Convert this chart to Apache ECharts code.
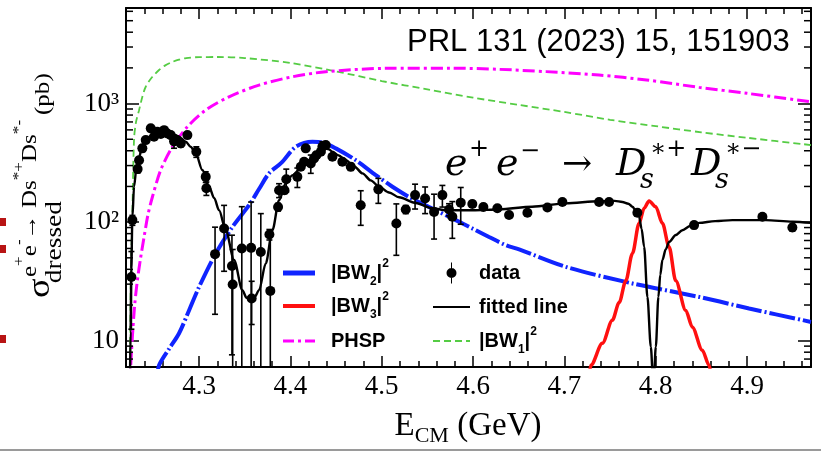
<!DOCTYPE html>
<html><head><meta charset="utf-8">
<script src="https://cdn.jsdelivr.net/npm/echarts@6/dist/echarts.min.js"></script>
<style>html,body{margin:0;padding:0;background:#fff}#c{width:821px;height:454px}</style>
</head><body><div id="c"></div>
<script>
// ---------- axis ranges & tick labels ----------
const X_MIN = 4.22, X_MAX = 4.97, Y_MIN = 6, Y_MAX = 6400;
const xTickLabels = ['4.3', '4.4', '4.5', '4.6', '4.7', '4.8', '4.9'];
const yTickValues = [10, 100, 1000];
const yTickLabels = ['10', '10²', '10³'];
const yMinorTicks = [7, 8, 9, 20, 30, 40, 50, 60, 70, 80, 90, 200, 300, 400, 500, 600, 700, 800, 900, 2000, 3000, 4000, 5000, 6000];

// ---------- data points ----------
const dataE = [4.2259, 4.2270, 4.2327, 4.2343, 4.2379, 4.2416, 4.2471, 4.2507, 4.2543, 4.2581, 4.2617, 4.2653, 4.2690, 4.2726, 4.2762, 4.2800, 4.2872, 4.2970, 4.3073, 4.3080, 4.3175, 4.3274, 4.3360, 4.3368, 4.3468, 4.3570, 4.3576, 4.3676, 4.3770, 4.3780, 4.3865, 4.3876, 4.3935, 4.3955, 4.4076, 4.4114, 4.4150, 4.4168, 4.4223, 4.4259, 4.4284, 4.4333, 4.4350, 4.4387, 4.4460, 4.4569, 4.4661, 4.4770, 4.4963, 4.5160, 4.5263, 4.5365, 4.5475, 4.5573, 4.5664, 4.5737, 4.5773, 4.5865, 4.5992, 4.6113, 4.6266, 4.6394, 4.6595, 4.6814, 4.6978, 4.7380, 4.7489, 4.7799, 4.8420, 4.9168, 4.9496];
const dataSigma = [34.5, 104, 280, 333, 419, 492, 618, 525, 578, 553, 597, 560, 542, 480, 492, 461, 542, 392, 241, 193, 53.7, 88.5, 42.6, 29.8, 60, 60.7, 22.7, 56, 78.7, 26.3, 134, 186, 186, 230, 241, 293, 323, 419, 313, 345, 367, 392, 432, 447, 356, 323, 293, 139, 189, 97.5, 128, 169, 158, 122, 169, 128, 111, 146, 142, 134, 131, 115, 120, 133, 148, 148, 148, 120, 94.4, 111, 90];
const dataErr = [22, 10, 20, 20, 25, 25, 30, 25, 25, 25, 30, 25, 25, 60, 30, 30, 30, 40, 25, 25, 37, 50, 35, 29, 75, 87, 9, 62, 8, 57, 10, 25, 12, 50, 45, 15, 20, 20, 55, 20, 20, 20, 45, 20, 20, 20, 20, 45, 45, 45, 10, 40, 40, 50, 35, 15, 38, 50, 8, 8, 6, 6, 6, 6, 6, 6, 6, 6, 6, 6, 6];

// ---------- fitted line ----------
const fitE = [4.2244, 4.2250, 4.2258, 4.2270, 4.2288, 4.2315, 4.2343, 4.2380, 4.2416, 4.2470, 4.2526, 4.2580, 4.2635, 4.2690, 4.2745, 4.2800, 4.2854, 4.2910, 4.2964, 4.3036, 4.3110, 4.3165, 4.3219, 4.3292, 4.3383, 4.3474, 4.3520, 4.3566, 4.3610, 4.3657, 4.3730, 4.3803, 4.3876, 4.3949, 4.4020, 4.4095, 4.4168, 4.4241, 4.4310, 4.4369, 4.4420, 4.4460, 4.4530, 4.4606, 4.4700, 4.4789, 4.4880, 4.4971, 4.5080, 4.5190, 4.5372, 4.5555, 4.5700, 4.6000, 4.6285, 4.6646, 4.7015, 4.7380, 4.7550, 4.7635, 4.7700, 4.7745, 4.7790, 4.7818, 4.7845, 4.7873, 4.7909, 4.7946, 4.7975, 4.8001, 4.8029, 4.8050, 4.8073, 4.8110, 4.8146, 4.8220, 4.8292, 4.8380, 4.8475, 4.8650, 4.8839, 4.9205, 4.9496, 4.9700];
const fitSigma = [5, 12, 40, 110, 199, 290, 356, 430, 492, 535, 561, 574, 578, 565, 542, 510, 476, 430, 380, 275, 199, 160, 126, 85.5, 48, 26.7, 23, 22, 23.5, 26.7, 44.8, 85.5, 153, 212, 248, 275, 305, 356, 400, 419, 412, 392, 365, 333, 295, 258, 225, 199, 178, 162, 145, 131, 126, 126, 128, 135, 144, 150, 151, 148, 143, 135, 122, 111, 88, 62, 23.4, 8.9, 4, 8.9, 23.4, 36, 48, 59, 68, 78, 85.5, 93, 98.6, 102, 104, 104, 100.8, 98.6];

// ---------- |BW1|^2 ----------
const bw1E = [4.2244, 4.2250, 4.2260, 4.2268, 4.2288, 4.2310, 4.2343, 4.2380, 4.2416, 4.2480, 4.2562, 4.2630, 4.2704, 4.2780, 4.2858, 4.3000, 4.3200, 4.3500, 4.4000, 4.4500, 4.5000, 4.5500, 4.6000, 4.6500, 4.7000, 4.7500, 4.8000, 4.8500, 4.9000, 4.9700];
const bw1Sigma = [4, 22, 60, 100, 500, 700, 880, 1150, 1387, 1650, 1919, 2100, 2240, 2350, 2420, 2466, 2470, 2420, 2200, 1870, 1549, 1318, 1122, 975, 850, 730, 645, 572, 515, 447];

// ---------- PHSP ----------
const phspE = [4.2244, 4.2252, 4.2270, 4.2295, 4.2324, 4.2360, 4.2398, 4.2440, 4.2489, 4.2580, 4.2708, 4.2872, 4.3073, 4.3328, 4.3657, 4.4022, 4.4387, 4.5044, 4.5774, 4.6285, 4.6800, 4.7380, 4.7900, 4.8475, 4.9000, 4.9700];
const phspSigma = [4, 6.2, 10.8, 20, 32, 50, 75, 115, 163, 275, 432, 637, 881, 1141, 1432, 1683, 1855, 1983, 1990, 1944, 1860, 1739, 1580, 1370, 1220, 1036];

// ---------- |BW2|^2 ----------
const bw2E = [4.2545, 4.2562, 4.2670, 4.2780, 4.2890, 4.3000, 4.3183, 4.3365, 4.3547, 4.3660, 4.3766, 4.3900, 4.4059, 4.4241, 4.4350, 4.4497, 4.4716, 4.4935, 4.5117, 4.5300, 4.5518, 4.5628, 4.5811, 4.5992, 4.6175, 4.6358, 4.6504, 4.7015, 4.7744, 4.8475, 4.9022, 4.9700];
const bw2Sigma = [5, 6.2, 8.5, 11.5, 18, 28.4, 54.5, 91, 139, 192, 258, 316, 432, 476, 470, 419, 333, 249, 199, 163, 134, 122, 104, 88.5, 75, 64, 58.9, 42, 30.4, 23.4, 18.7, 14.4];

// ---------- |BW3|^2 ----------
const bw3E = [4.7270, 4.7289, 4.7416, 4.7525, 4.7600, 4.7672, 4.7745, 4.7818, 4.7873, 4.7927, 4.8000, 4.8073, 4.8146, 4.8219, 4.8329, 4.8401, 4.8510, 4.8584, 4.8610];
const bw3Sigma = [5, 6.2, 9.5, 14.9, 21, 32, 54.5, 98, 131, 151, 135, 98, 62, 32, 18, 13, 8.3, 6.2, 5];

const zip = (a, b) => a.map((v, i) => [v, b[i]]);

const SERIF = 'Liberation Serif';
const SANS = 'Liberation Sans';
const C_BLUE = '#1024ff', C_RED = '#ff1010', C_MAG = '#ff00ff', C_GREEN = '#55cc44';

const chart = echarts.init(document.getElementById('c'), null, { renderer: 'canvas' });

const xFmt = v => {
  const r = Math.round(v * 10) / 10;
  const s = r.toFixed(1);
  return (Math.abs(v - r) < 1e-6 && xTickLabels.includes(s)) ? s : '';
};
const yFmt = v => {
  const i = yTickValues.findIndex(t => Math.abs(v - t) / t < 1e-6);
  return i >= 0 ? yTickLabels[i] : '';
};

const axisLineStyle = { color: '#000', width: 2 };
const tickStyle = { color: '#000', width: 1.5 };

const xAxisBase = {
  type: 'value', min: X_MIN, max: X_MAX, splitNumber: 8,
  axisLine: { show: true, onZero: false, lineStyle: axisLineStyle },
  axisTick: { show: true, inside: true, length: 11, lineStyle: tickStyle },
  minorTick: { show: true, splitNumber: 5, length: 6, lineStyle: tickStyle },
  splitLine: { show: false }, minorSplitLine: { show: false }
};
const yAxisBase = {
  type: 'log', logBase: 10, min: Y_MIN, max: Y_MAX,
  axisLine: { show: true, lineStyle: axisLineStyle },
  axisTick: { show: true, inside: true, length: 13, lineStyle: tickStyle },
  minorTick: { show: false },
  splitLine: { show: false }
};

// ---------- legend ----------
const legendRich = {
  t: { fontFamily: SANS, fontWeight: 'bold', fontSize: 20, lineHeight: 30, color: '#000', verticalAlign: 'middle' },
  sb: { fontFamily: SANS, fontWeight: 'bold', fontSize: 12, lineHeight: 8, color: '#000', verticalAlign: 'bottom' },
  sp: { fontFamily: SANS, fontWeight: 'bold', fontSize: 12, lineHeight: 16, color: '#000', verticalAlign: 'top' }
};
const legendLabel = {
  'BW1': '{t||BW}{sb|1}{t||}{sp|2}',
  'BW2': '{t||BW}{sb|2}{t||}{sp|2}',
  'BW3': '{t||BW}{sb|3}{t||}{sp|2}',
  'PHSP': '{t|PHSP}',
  'data': '{t|data}',
  'fitted line': '{t|fitted line}'
};
const legendIcons = {
  'BW2': 'path://M0,0M32,30M0,12.5H32V17.5H0Z',
  'BW3': 'path://M0,0M32,30M0,13H32V17H0Z',
  'PHSP': 'path://M0,0M32,30M0,13.5H11V16.5H0Z M15,13.5H18V16.5H15Z M22,13.5H32V16.5H22Z',
  'data': 'path://M0,0M37,30M18,4.5H19V25.5H18Z M23.5,15A5,5,0,1,1,13.5,15A5,5,0,1,1,23.5,15Z',
  'fitted line': 'path://M0,0M37,30M0,14H37V16H0Z',
  'BW1': 'path://M0,0M37,30M0,14H7V16H0Z M11,14H18V16H11Z M22,14H29V16H22Z M33,14H37V16H33Z'
};
const mkLegend = (name, color, left, centerY, itemWidth, textPad) => ({
  orient: 'vertical', left: left, top: centerY - 15, padding: 0, itemGap: 0,
  itemWidth: itemWidth, itemHeight: 30, selectedMode: false,
  data: [{ name: name, icon: legendIcons[name], itemStyle: { color: color, opacity: 1, borderWidth: 0 } }],
  formatter: n => legendLabel[n],
  textStyle: { padding: [0, 0, 0, textPad], rich: legendRich }
});

const option = {
  animation: false,
  backgroundColor: '#fff',
  grid: { left: 126, right: 10, top: 8, bottom: 87, containLabel: false },
  xAxis: [
    Object.assign({}, xAxisBase, { position: 'bottom',
      axisLabel: { show: true, formatter: xFmt, fontFamily: SERIF, fontSize: 27, color: '#000', margin: 6, showMinLabel: false, showMaxLabel: false } }),
    Object.assign({}, xAxisBase, { position: 'top', axisLabel: { show: false } })
  ],
  yAxis: [
    Object.assign({}, yAxisBase, { position: 'left',
      axisLabel: { show: true, formatter: yFmt, fontFamily: SERIF, fontSize: 27, color: '#000', margin: 7, showMinLabel: false, showMaxLabel: false } }),
    Object.assign({}, yAxisBase, { position: 'right', axisLabel: { show: false } })
  ],
  legend: [
    mkLegend('BW2', C_BLUE, 283, 273, 32, 11),
    mkLegend('BW3', C_RED, 283, 306, 32, 11),
    mkLegend('PHSP', C_MAG, 283, 341, 32, 11),
    mkLegend('data', '#000', 433, 273, 37, 4),
    mkLegend('fitted line', '#000', 433, 307, 37, 4),
    mkLegend('BW1', C_GREEN, 433, 341, 37, 4)
  ],
  series: [
    { name: 'BW1', type: 'line', data: zip(bw1E, bw1Sigma), symbol: 'none', smooth: 0.3,
      lineStyle: { color: C_GREEN, width: 1.8, type: [7, 4] }, itemStyle: { color: C_GREEN }, z: 2 },
    { name: 'PHSP', type: 'line', data: zip(phspE, phspSigma), symbol: 'none', smooth: 0.3,
      lineStyle: { color: C_MAG, width: 3, type: [12, 4, 3, 4] }, itemStyle: { color: C_MAG }, z: 2 },
    { name: 'BW2', type: 'line', data: zip(bw2E, bw2Sigma), symbol: 'none', smooth: 0.3,
      lineStyle: { color: C_BLUE, width: 4, type: [26, 3, 2, 3] }, itemStyle: { color: C_BLUE }, z: 3 },
    { name: 'BW3', type: 'line', data: zip(bw3E, bw3Sigma), symbol: 'none', smooth: 0.3, smoothMonotone: 'x',
      lineStyle: { color: C_RED, width: 3.5 }, itemStyle: { color: C_RED }, z: 3 },
    { name: 'fitted line', type: 'line', data: zip(fitE, fitSigma), symbol: 'none', smooth: 0.3, smoothMonotone: 'x',
      lineStyle: { color: '#000', width: 2.4 }, itemStyle: { color: '#000' }, z: 4 },
    { name: 'errors', type: 'custom', clip: true, silent: true, z: 5,
      data: dataE.map((e, i) => [e, dataSigma[i], dataErr[i]]),
      renderItem: (params, api) => {
        const x = api.value(0), y = api.value(1), e = api.value(2);
        const lo = Math.max(y - e, 0.5), hi = y + e;
        const p0 = api.coord([x, lo]), p1 = api.coord([x, hi]);
        const st = { stroke: '#000', lineWidth: 1.6 };
        return { type: 'group', children: [
          { type: 'line', shape: { x1: p0[0], y1: p0[1], x2: p1[0], y2: p1[1] }, style: st },
          { type: 'line', shape: { x1: p1[0] - 3, y1: p1[1], x2: p1[0] + 3, y2: p1[1] }, style: st },
          { type: 'line', shape: { x1: p0[0] - 3, y1: p0[1], x2: p0[0] + 3, y2: p0[1] }, style: st }
        ] };
      } },
    { name: 'data', type: 'scatter', data: zip(dataE, dataSigma), symbol: 'circle', symbolSize: 10,
      itemStyle: { color: '#000', opacity: 1 }, z: 6 },
    { name: 'yminor', type: 'custom', silent: true, clip: false, z: 10,
      data: yMinorTicks.map(v => [X_MIN, v]),
      renderItem: (params, api) => {
        const v = api.value(1);
        const pl = api.coord([X_MIN, v]), pr = api.coord([X_MAX, v]);
        const st = { stroke: '#000', lineWidth: 1.5 };
        return { type: 'group', children: [
          { type: 'line', shape: { x1: pl[0], y1: pl[1], x2: pl[0] + 7, y2: pl[1] }, style: st },
          { type: 'line', shape: { x1: pr[0] - 7, y1: pr[1], x2: pr[0], y2: pr[1] }, style: st }
        ] };
      } }
  ],
  graphic: [
    // publication note
    { type: 'text', x: 407, y: 42, style: { text: 'PRL 131 (2023) 15, 151903', fontFamily: SANS, fontSize: 31, fill: '#000', textAlign: 'left', textVerticalAlign: 'middle' } },
    // reaction formula
    { type: 'group', children: [
      { type: 'text', x: 445, y: 165, style: { text: 'e', fontFamily: 'DejaVu Serif', fontStyle: 'italic', fontSize: 38, fill: '#000', textAlign: 'left', textVerticalAlign: 'middle' } },
      { type: 'text', x: 469, y: 150, style: { text: '+', fontFamily: 'DejaVu Serif', fontSize: 24, fill: '#000', textAlign: 'left', textVerticalAlign: 'middle' } },
      { type: 'text', x: 496, y: 165, style: { text: 'e', fontFamily: 'DejaVu Serif', fontStyle: 'italic', fontSize: 38, fill: '#000', textAlign: 'left', textVerticalAlign: 'middle' } },
      { type: 'text', x: 520, y: 152, style: { text: '−', fontFamily: 'DejaVu Serif', fontSize: 24, fill: '#000', textAlign: 'left', textVerticalAlign: 'middle' } },
      { type: 'text', x: 562, y: 166, style: { text: '→', fontFamily: 'DejaVu Serif', fontSize: 36, fill: '#000', textAlign: 'left', textVerticalAlign: 'middle' } },
      { type: 'text', x: 616, y: 165, style: { text: 'D', fontFamily: 'DejaVu Serif', fontStyle: 'italic', fontSize: 38, fill: '#000', textAlign: 'left', textVerticalAlign: 'middle' } },
      { type: 'text', x: 650, y: 150, style: { text: '∗+', fontFamily: 'DejaVu Serif', fontSize: 24, fill: '#000', textAlign: 'left', textVerticalAlign: 'middle' } },
      { type: 'text', x: 640, y: 181, style: { text: 's', fontFamily: 'DejaVu Serif', fontStyle: 'italic', fontSize: 27, fill: '#000', textAlign: 'left', textVerticalAlign: 'middle' } },
      { type: 'text', x: 691, y: 165, style: { text: 'D', fontFamily: 'DejaVu Serif', fontStyle: 'italic', fontSize: 38, fill: '#000', textAlign: 'left', textVerticalAlign: 'middle' } },
      { type: 'text', x: 725, y: 150, style: { text: '∗−', fontFamily: 'DejaVu Serif', fontSize: 24, fill: '#000', textAlign: 'left', textVerticalAlign: 'middle' } },
      { type: 'text', x: 715, y: 181, style: { text: 's', fontFamily: 'DejaVu Serif', fontStyle: 'italic', fontSize: 27, fill: '#000', textAlign: 'left', textVerticalAlign: 'middle' } }
    ] },
    // x axis title
    { type: 'text', x: 468, y: 426, style: {
      text: '{e|E}{s|CM}{e| (GeV)}', textAlign: 'center', textVerticalAlign: 'middle',
      rich: {
        e: { fontFamily: SERIF, fontSize: 33, lineHeight: 42, verticalAlign: 'middle', fill: '#000', color: '#000' },
        s: { fontFamily: SERIF, fontSize: 22, lineHeight: 20, verticalAlign: 'bottom', fill: '#000', color: '#000' }
      } } },
    // y axis title (rotated)
    { type: 'group', x: 50, y: 298, rotation: Math.PI / 2, scaleX: 1.14, children: [
      { type: 'text', x: 0, y: -9.6, style: { text: 'σ', fontFamily: SERIF, fontSize: 32, fill: '#000', textAlign: 'left', textVerticalAlign: 'middle' } },
      { type: 'text', x: 18.4, y: -23.6, style: {
        text: '{m|e}{u|+}{m|e}{u|-}{m|→ Ds}{u|*+}{m|Ds}{u|*-}', textAlign: 'left', textVerticalAlign: 'middle',
        rich: {
          m: { fontFamily: SERIF, fontSize: 22, lineHeight: 30, verticalAlign: 'bottom', fill: '#000', color: '#000' },
          u: { fontFamily: SERIF, fontSize: 15, lineHeight: 14, verticalAlign: 'top', fill: '#000', color: '#000' }
        } } },
      { type: 'text', x: 13, y: 4.8, style: { text: 'dressed', fontFamily: SERIF, fontSize: 24, fill: '#000', textAlign: 'left', textVerticalAlign: 'middle' } },
      { type: 'text', x: 160.5, y: -6.6, style: { text: '(pb)', fontFamily: SERIF, fontSize: 22, fill: '#000', textAlign: 'left', textVerticalAlign: 'middle' } }
    ] },
    // page edge artefacts visible in the reference screenshot
    { type: 'rect', shape: { x: 0, y: 218, width: 6, height: 8 }, style: { fill: '#b81414' } },
    { type: 'rect', shape: { x: 0, y: 245, width: 6, height: 8 }, style: { fill: '#b81414' } },
    { type: 'rect', shape: { x: 0, y: 335, width: 6, height: 8 }, style: { fill: '#b81414' } },
    { type: 'line', shape: { x1: 0, y1: 450, x2: 821, y2: 450 }, style: { stroke: '#9a9a9a', lineWidth: 2 } }
  ]
};
chart.setOption(option);
</script>
</body></html>
